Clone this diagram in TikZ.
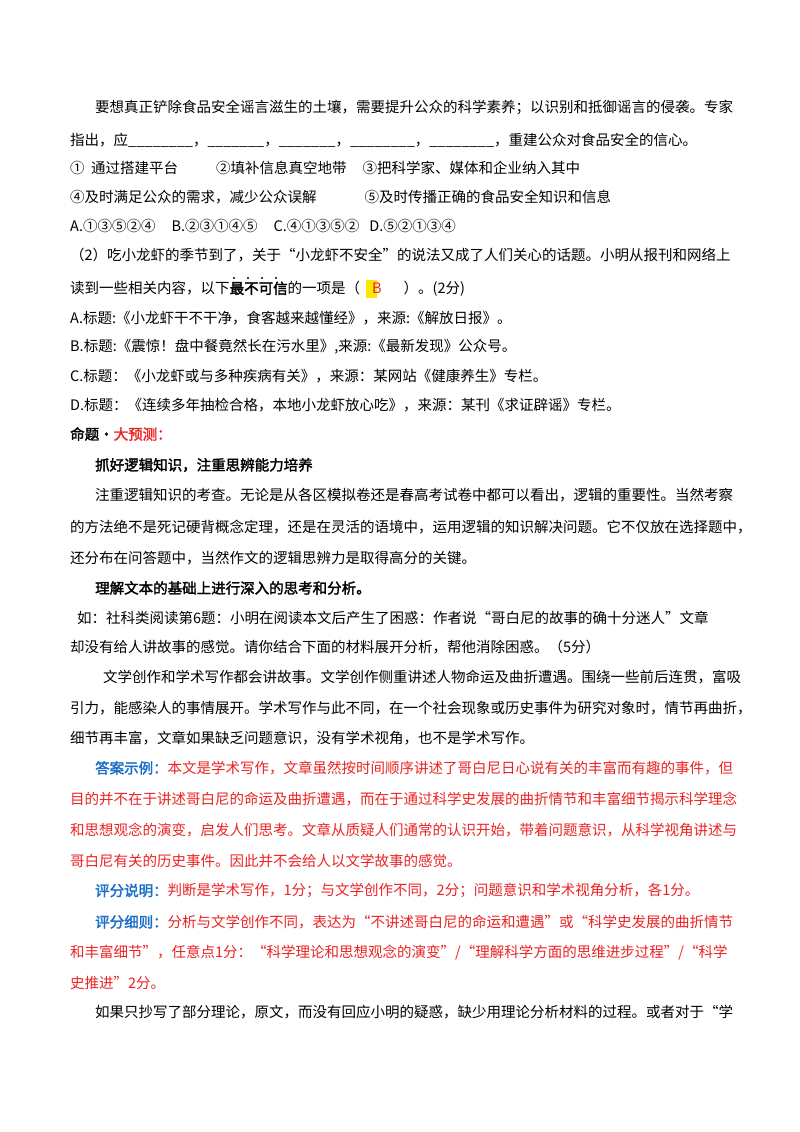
\documentclass[tikz,border=0pt]{standalone}
\usepackage{fontspec}
\setmainfont{Liberation Serif}
\newfontfamily\cjk{Noto Sans CJK SC}
\newfontfamily\cjkb[FakeBold=2]{Noto Sans CJK SC}
\XeTeXlinebreaklocale "zh"
\XeTeXlinebreakskip=0pt plus 1pt
\definecolor{ansred}{RGB}{235,35,35}
\definecolor{ansblue}{RGB}{25,110,200}
\definecolor{hl}{RGB}{255,230,0}
\newcommand\jl[1]{\makebox[660pt][s]{#1}}
\newcommand\jf[1]{\makebox[635pt][s]{#1}}
\tikzset{ln/.style={anchor=west,inner sep=0pt,font=\cjk\fontsize{14.5}{18}\selectfont}}
\begin{document}
\begin{tikzpicture}[x=1pt,y=-1pt]
\useasboundingbox (0,0) rectangle (800,1132);
\fill[white] (0,0) rectangle (800,1132);
\node[ln] (l1) at (95,107) {\jf{要想真正铲除食品安全谣言滋生的土壤，需要提升公众的科学素养；以识别和抵御谣言的侵袭。专家}};
\node[ln] (l2) at (70,140) {指出，应\_\_\_\_\_\_\_\_，\_\_\_\_\_\_\_，\_\_\_\_\_\_\_，\_\_\_\_\_\_\_\_，\_\_\_\_\_\_\_\_，重建公众对食品安全的信心。};
\node[ln] (l3) at (70,168) {①\ \ 通过搭建平台\hspace{38pt}②填补信息真空地带\hspace{16pt}③把科学家、媒体和企业纳入其中};
\node[ln] (l4) at (70,197) {④及时满足公众的需求，减少公众误解\hspace{48pt}⑤及时传播正确的食品安全知识和信息};
\node[ln] (l5) at (70,226) {A.①③⑤②④\hspace{16pt}B.②③①④⑤\hspace{16pt}C.④①③⑤②\hspace{10pt}D.⑤②①③④};
\node[ln] (l6) at (70,255) {\jl{（2）吃小龙虾的季节到了，关于“小龙虾不安全”的说法又成了人们关心的话题。小明从报刊和网络上}};
\fill[hl] (366,280) rectangle (377,298);
\node[ln] (l7) at (70,289) {读到一些相关内容，以下{\cjkb 最不可信}的一项是（\hspace{12pt}{\color{ansred}B}\hspace{22pt}）。(2分)};
\foreach \xx in {234,248,262,276} \fill (\xx,278) circle (1.2);
\node[ln] (la) at (70,318) {A.标题:《小龙虾干不干净，食客越来越懂经》，来源:《解放日报》。};
\node[ln] (lb) at (70,347) {B.标题:《震惊！盘中餐竟然长在污水里》,来源:《最新发现》公众号。};
\node[ln] (lc) at (70,376) {C.标题：《小龙虾或与多种疾病有关》，来源：某网站《健康养生》专栏。};
\node[ln] (ld) at (70,405) {D.标题：《连续多年抽检合格，本地小龙虾放心吃》，来源：某刊《求证辟谣》专栏。};
\node[ln] (lm) at (70,434) {\cjkb 命题·{\color{ansred}大预测：}};
\node[ln] (lh1) at (95,465) {\cjkb 抓好逻辑知识，注重思辨能力培养};
\node[ln] (p1) at (95,495) {\jf{注重逻辑知识的考查。无论是从各区模拟卷还是春高考试卷中都可以看出，逻辑的重要性。当然考察}};
\node[ln] (p2) at (70,527) {\jl{的方法绝不是死记硬背概念定理，还是在灵活的语境中，运用逻辑的知识解决问题。它不仅放在选择题中，}};
\node[ln] (p3) at (70,558) {还分布在问答题中，当然作文的逻辑思辨力是取得高分的关键。};
\node[ln] (lh2) at (95,588) {\cjkb 理解文本的基础上进行深入的思考和分析。};
\node[ln] (q1) at (77,618) {\makebox[653pt][s]{如：社科类阅读第6题：小明在阅读本文后产生了困惑：作者说“哥白尼的故事的确十分迷人”文章}};
\node[ln] (q2) at (70,647) {却没有给人讲故事的感觉。请你结合下面的材料展开分析，帮他消除困惑。（5分）};
\node[ln] (m1) at (103,677) {\makebox[627pt][s]{文学创作和学术写作都会讲故事。文学创作侧重讲述人物命运及曲折遭遇。围绕一些前后连贯，富吸}};
\node[ln] (m2) at (70,708) {\jl{引力，能感染人的事情展开。学术写作与此不同，在一个社会现象或历史事件为研究对象时，情节再曲折，}};
\node[ln] (m3) at (70,738) {细节再丰富，文章如果缺乏问题意识，没有学术视角，也不是学术写作。};
\begin{scope}[every node/.append style={text=ansred}]
\node[ln] (a1) at (95,768) {\jf{{\cjkb\color{ansblue}答案示例：}本文是学术写作，文章虽然按时间顺序讲述了哥白尼日心说有关的丰富而有趣的事件，但}};
\node[ln] (a2) at (70,799) {\jl{目的并不在于讲述哥白尼的命运及曲折遭遇，而在于通过科学史发展的曲折情节和丰富细节揭示科学理念}};
\node[ln] (a3) at (70,830) {\jl{和思想观念的演变，启发人们思考。文章从质疑人们通常的认识开始，带着问题意识，从科学视角讲述与}};
\node[ln] (a4) at (70,861) {哥白尼有关的历史事件。因此并不会给人以文学故事的感觉。};
\node[ln] (s1) at (95,891) {{\cjkb\color{ansblue}评分说明：}判断是学术写作，1分；与文学创作不同，2分；问题意识和学术视角分析，各1分。};
\node[ln] (s2) at (95,922) {\jf{{\cjkb\color{ansblue}评分细则：}分析与文学创作不同，表达为“不讲述哥白尼的命运和遭遇”或“科学史发展的曲折情节}};
\node[ln] (s3) at (70,953) {\jl{和丰富细节”，任意点1分：“科学理论和思想观念的演变”/“理解科学方面的思维进步过程”/“科学}};
\node[ln] (s4) at (70,983) {史推进”2分。};
\end{scope}
\node[ln] (e1) at (95,1012) {\jf{如果只抄写了部分理论，原文，而没有回应小明的疑惑，缺少用理论分析材料的过程。或者对于“学}};
\end{tikzpicture}
\end{document}
